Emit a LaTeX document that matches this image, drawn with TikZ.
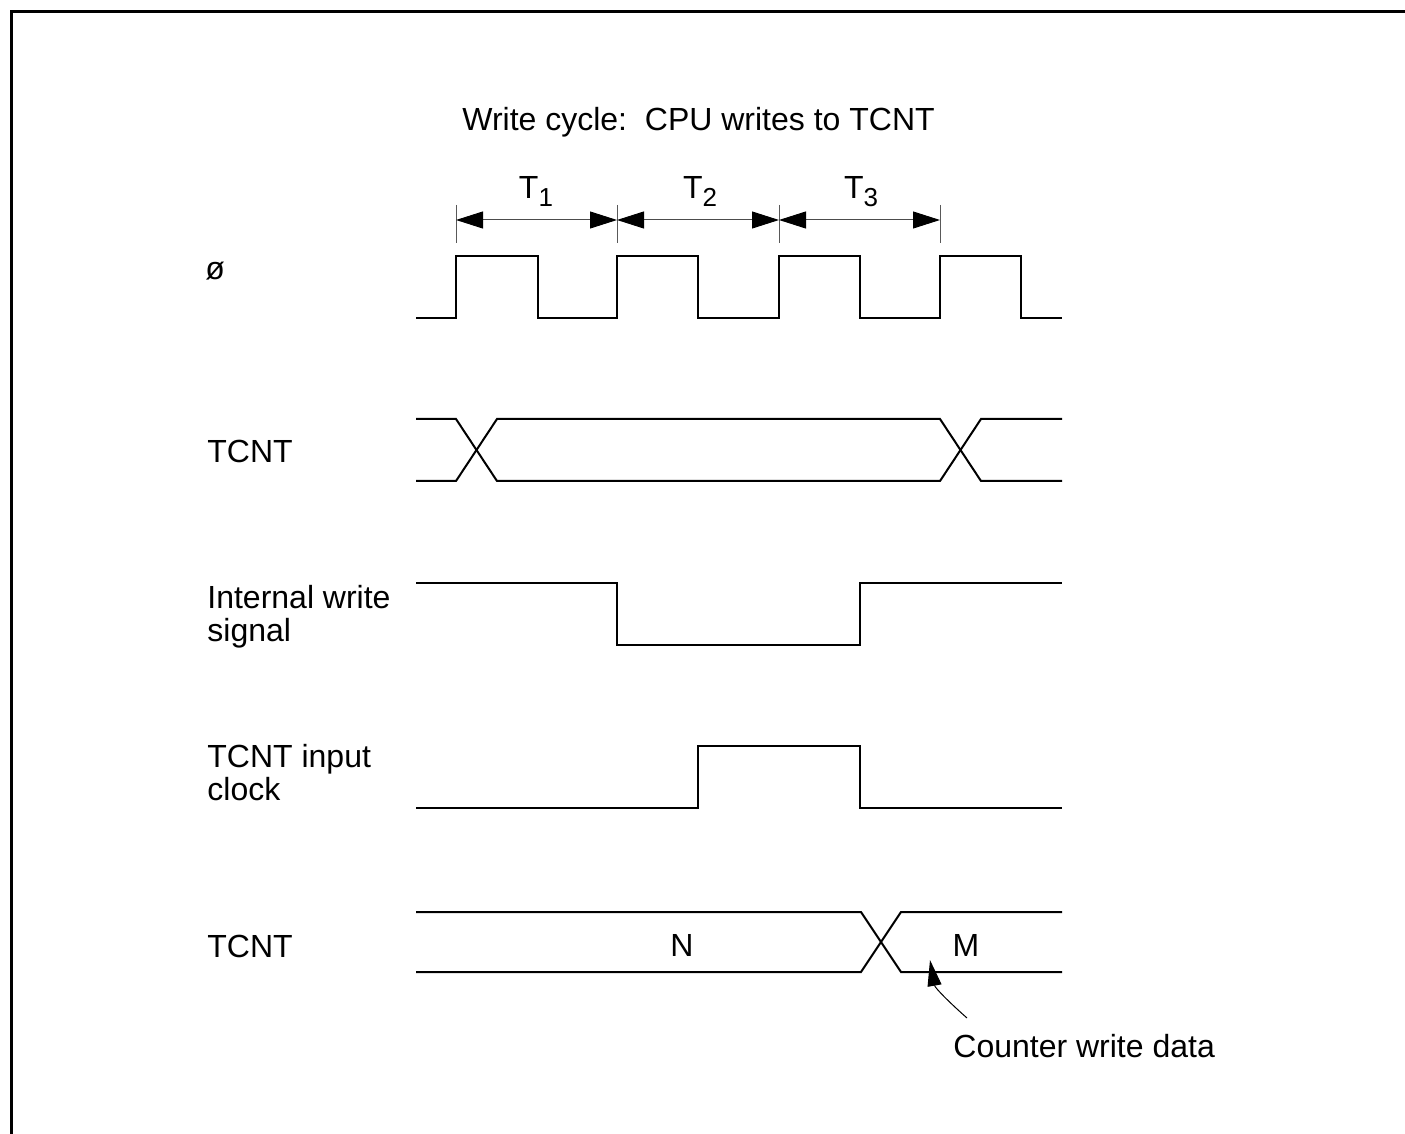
\documentclass[tikz,border=0pt]{standalone}
\usepackage{fontspec}
\setmainfont{Liberation Sans}
\usetikzlibrary{arrows.meta}
\begin{document}
\begin{tikzpicture}[x=0.5pt,y=-0.5pt,
  sig/.style={line width=1pt, line join=miter},
  lbl/.style={font=\fontsize{16}{16.5}\selectfont, inner sep=0pt},
  dimline/.style={line width=0.5pt, draw=black!70, {Triangle[length=13.5pt,width=8.5pt,color=black,fill=black]}-{Triangle[length=13.5pt,width=8.5pt,color=black,fill=black]}},
  tickline/.style={line width=0.5pt, draw=black!65},
  frameline/.style={line width=1.5pt}]
\useasboundingbox (0,0) rectangle (1405,1134);
% frame
\draw[frameline] (11,1134) -- (11,12) -- (1405,12);
% title
\node[lbl, anchor=base west] (title) at (462,131) {Write cycle:\ \ CPU writes to TCNT};
% ticks
\coordinate (k0) at (456,220);
\coordinate (k1) at (617,220);
\coordinate (k2) at (779,220);
\coordinate (k3) at (940,220);
\foreach \k in {k0,k1,k2,k3} {\draw[tickline] ([yshift=7.5pt]\k) -- ([yshift=-11.5pt]\k);}
\draw[dimline] (k0) -- (k1);
\draw[dimline] (k1) -- (k2);
\draw[dimline] (k2) -- (k3);
\node[lbl, anchor=base] (t1) at (536,199) {T\raisebox{-4pt}{\fontsize{13}{14}\selectfont 1}};
\node[lbl, anchor=base] (t2) at (700,199) {T\raisebox{-4pt}{\fontsize{13}{14}\selectfont 2}};
\node[lbl, anchor=base] (t3) at (861,199) {T\raisebox{-4pt}{\fontsize{13}{14}\selectfont 3}};
% labels
\node[lbl, anchor=west] (lphi) at (205,271) {ø};
\node[lbl, anchor=base west] (ltcnt1) at (207,463) {TCNT};
\node[lbl, anchor=west, align=left] (liw) at (207,617) {Internal write\\signal};
\node[lbl, anchor=west, align=left] (lclk) at (207,773) {TCNT input\\clock};
\node[lbl, anchor=base west] (ltcnt2) at (207,957) {TCNT};
% clock
\draw[sig] (416,318) -- (456,318) -- (456,256) -- (538,256) -- (538,318) -- (617,318) -- (617,256) -- (698,256) -- (698,318) -- (779,318) -- (779,256) -- (860,256) -- (860,318) -- (940,318) -- (940,256) -- (1021,256) -- (1021,318) -- (1062,318);
% TCNT bus 1
\draw[sig] (416,419) -- (456,419) -- (497,481) -- (940,481) -- (981,419) -- (1062,419);
\draw[sig] (416,481) -- (456,481) -- (497,419) -- (940,419) -- (981,481) -- (1062,481);
% internal write
\draw[sig] (416,583) -- (617,583) -- (617,645) -- (860,645) -- (860,583) -- (1062,583);
% TCNT input clock
\draw[sig] (416,808) -- (698,808) -- (698,746) -- (860,746) -- (860,808) -- (1062,808);
% TCNT bus 2
\draw[sig] (416,912) -- (861,912) -- (901,972) -- (1062,972);
\draw[sig] (416,972) -- (861,972) -- (901,912) -- (1062,912);
\node[lbl] (nN) at (682,945) {N};
\node[lbl] (nM) at (966,945) {M};
% annotation
\node[lbl, anchor=west] (cwd) at (953,1046) {Counter write data};
\coordinate (atail) at (967,1018);
\coordinate (atip) at (930,960);
\draw[line width=0.5pt, -{Triangle[length=13pt,width=7pt]}] (atail) .. controls (950,1003) and (935,988) .. (atip);
\end{tikzpicture}
\end{document}
